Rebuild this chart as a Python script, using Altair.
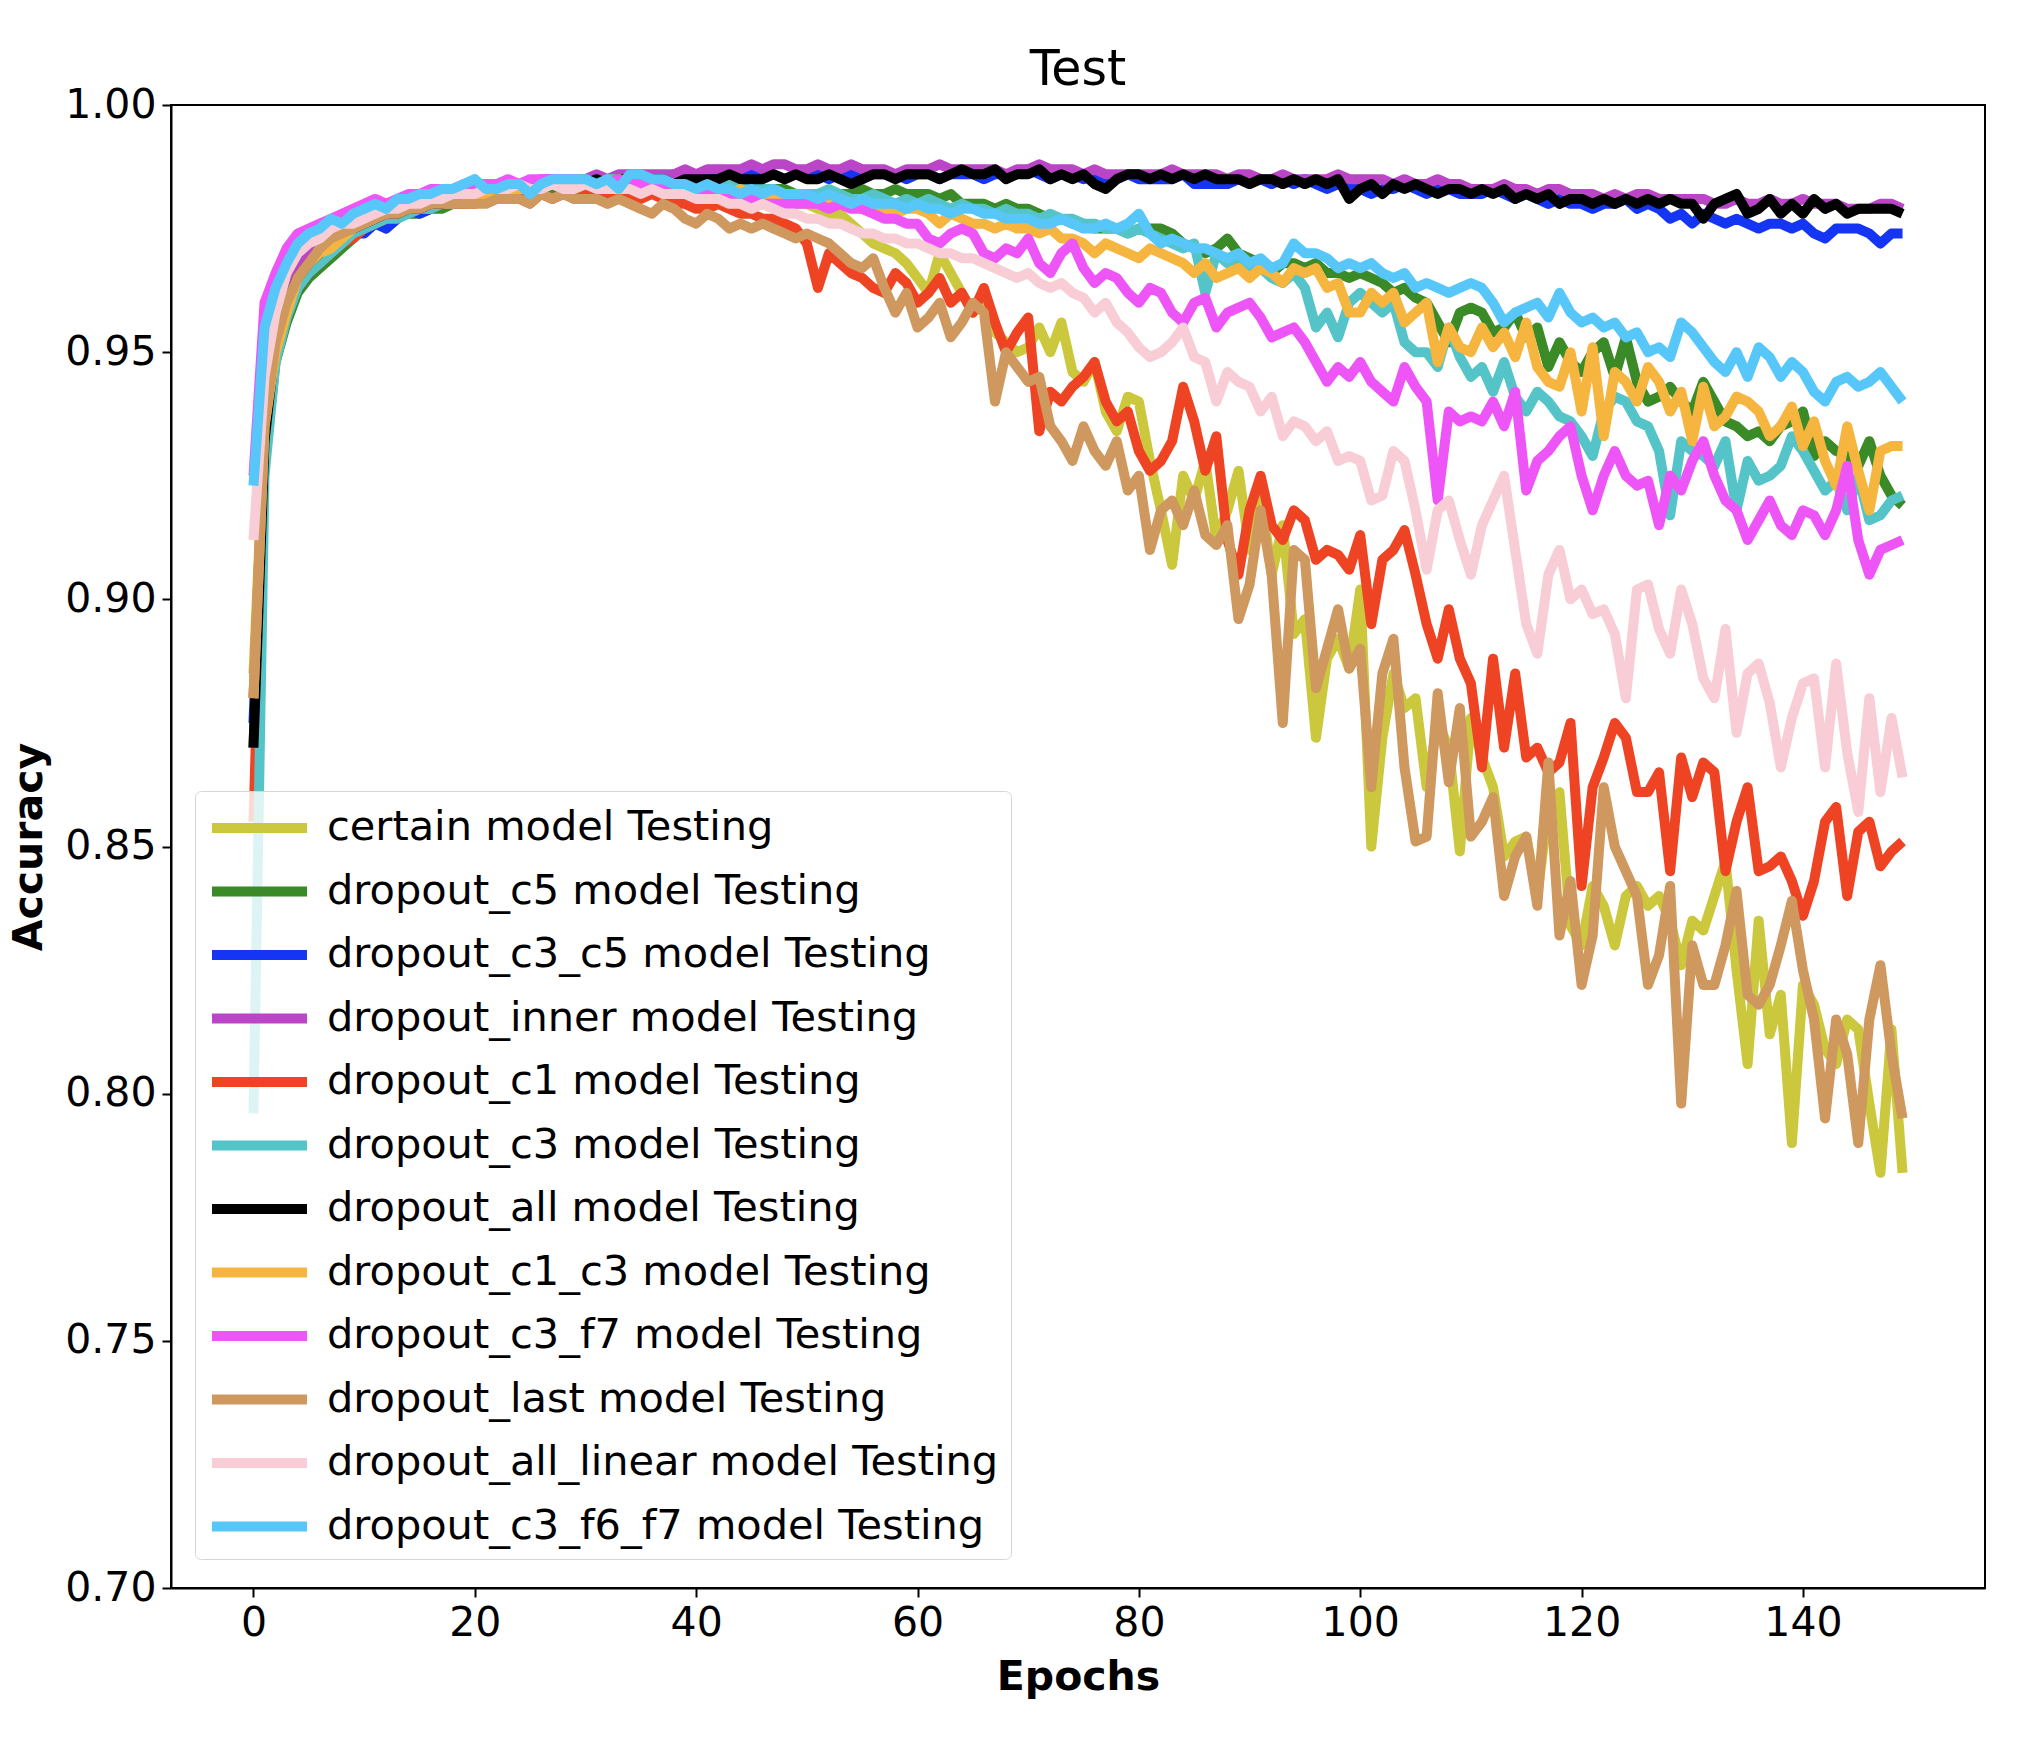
import altair as alt
import pandas as pd

epochs = list(range(150))

names = [
    "certain model Testing",
    "dropout_c5 model Testing",
    "dropout_c3_c5 model Testing",
    "dropout_inner model Testing",
    "dropout_c1 model Testing",
    "dropout_c3 model Testing",
    "dropout_all model Testing",
    "dropout_c1_c3 model Testing",
    "dropout_c3_f7 model Testing",
    "dropout_last model Testing",
    "dropout_all_linear model Testing",
    "dropout_c3_f6_f7 model Testing",
]

colors = [
    "#CCC83E", "#3A8A27", "#1535F5", "#BA45C6", "#EE4424", "#55C4C8",
    "#000000", "#F5B53E", "#EE55F7", "#CF985F", "#F8CDD5", "#57C7F9",
]

# accuracy values in thousandths, one per epoch
certain = [
    885, 935, 952, 960, 966, 969, 971, 973, 975, 976,
    977, 978, 978, 979, 979, 980, 980, 981, 981, 982,
    982, 982, 983, 983, 983, 983, 984, 983, 984, 984,
    984, 984, 984, 985, 984, 985, 984, 984, 984, 983,
    983, 983, 983, 982, 983, 982, 982, 981, 981, 980,
    980, 979, 978, 978, 976, 974, 972, 971, 970, 968,
    965, 962, 970, 966, 962, 958, 960, 954, 952, 950,
    951, 955, 950, 956, 946, 944, 948, 938, 934, 941,
    940, 928, 918, 907, 925, 920, 928, 912, 918, 926,
    910, 922, 905, 915, 893, 896, 872, 888, 892, 886,
    902, 850, 872, 885, 878, 880, 862, 875, 870, 849,
    876, 868, 862, 848, 851, 852, 840, 858, 861, 834,
    830, 842, 838, 830, 840, 842, 838, 840, 835, 826,
    835, 833, 840, 847, 825, 806, 835, 812, 820, 790,
    822, 818, 809, 806, 815, 813, 798, 784, 813, 784,
]
dropout_c5 = [
    870, 928, 948, 956, 962, 965, 967, 969, 971, 973,
    975, 976, 977, 978, 978, 978, 979, 979, 980, 980,
    981, 981, 982, 982, 982, 983, 983, 983, 983, 984,
    984, 984, 984, 984, 985, 984, 984, 984, 984, 984,
    984, 984, 984, 983, 983, 983, 983, 983, 983, 982,
    982, 982, 982, 982, 982, 983, 982, 982, 983, 982,
    982, 982, 981, 982, 980, 980, 980, 979, 980, 979,
    979, 978, 977, 977, 976, 976, 975, 975, 975, 974,
    975, 975, 975, 974, 972, 971, 970, 971, 973, 970,
    969, 968, 966, 968, 968, 967, 968, 966, 966, 965,
    966, 965, 964, 962, 963, 961, 960, 956, 952, 958,
    959, 958, 954, 955, 958, 953, 955, 947, 952, 948,
    946, 950, 952, 945, 953, 944, 940, 941, 943, 940,
    938, 944, 940, 936, 935, 933, 934, 932, 935, 936,
    938, 929, 932, 930, 929, 927, 932, 925, 921, 919,
]
dropout_c3_c5 = [
    875, 930, 950, 958, 963, 966, 968, 970, 972, 974,
    974, 976, 975, 977, 979, 978, 979, 980, 980, 981,
    981, 982, 982, 983, 983, 984, 984, 984, 984, 985,
    985, 985, 985, 985, 986, 985, 985, 985, 986, 985,
    986, 985, 986, 985, 986, 986, 986, 986, 985, 986,
    986, 986, 985, 986, 986, 985, 986, 986, 986, 985,
    986, 986, 985, 986, 986, 986, 985, 986, 986, 986,
    987, 986, 985, 986, 986, 985, 986, 985, 985, 986,
    985, 985, 985, 985, 986, 984, 984, 984, 984, 985,
    985, 985, 984, 985, 984, 985, 984, 983, 984, 983,
    983, 982, 983, 983, 984, 983, 982, 983, 983, 982,
    982, 982, 983, 982, 981, 982, 981, 980, 981, 980,
    980, 979, 980, 980, 981, 979, 980, 979, 977, 978,
    976, 978, 977, 976, 977, 976, 975, 976, 976, 975,
    976, 974, 973, 975, 975, 975, 974, 972, 974, 974,
]
dropout_inner = [
    880, 935, 955, 962, 967, 970, 972, 973, 975, 976,
    977, 978, 979, 979, 980, 980, 981, 981, 982, 982,
    982, 983, 983, 984, 984, 984, 985, 985, 985, 985,
    985, 986, 985, 986, 986, 986, 986, 986, 986, 987,
    986, 987, 987, 987, 987, 988, 987, 988, 988, 987,
    987, 988, 987, 987, 988, 987, 987, 987, 986, 987,
    987, 987, 988, 987, 987, 987, 987, 987, 986, 987,
    987, 988, 987, 987, 987, 986, 987, 986, 986, 986,
    986, 986, 986, 987, 986, 986, 986, 986, 985, 986,
    986, 985, 985, 986, 985, 985, 985, 985, 986, 985,
    985, 985, 985, 984, 985, 984, 984, 985, 984, 984,
    983, 983, 983, 984, 983, 983, 982, 983, 983, 982,
    982, 982, 981, 982, 981, 982, 982, 981, 981, 981,
    981, 981, 980, 980, 981, 980, 980, 981, 980, 980,
    981, 980, 980, 980, 979, 979, 979, 980, 980, 979,
]
dropout_c1 = [
    855, 930, 950, 958, 963, 966, 968, 970, 972, 973,
    975, 976, 977, 978, 978, 979, 979, 980, 980, 980,
    980, 981, 981, 982, 981, 982, 982, 981, 982, 981,
    982, 982, 981, 982, 981, 981, 982, 981, 980, 980,
    979, 979, 980, 979, 978, 978, 977, 977, 976, 975,
    972, 963, 970, 968, 966, 965, 963, 962, 966, 964,
    960, 962, 965, 960, 962, 958, 963, 956, 950, 954,
    957, 934, 942, 940, 943, 945, 948, 940, 936, 938,
    930, 926, 928, 932, 943, 936, 926, 933, 912, 905,
    918, 925, 915, 912, 918, 916, 908, 910, 909, 906,
    913, 895, 908, 910, 914, 905, 895, 888, 898, 888,
    883, 866, 888, 870, 885, 868, 870, 865, 867, 875,
    842, 862, 868, 875, 872, 861, 861, 865, 845, 868,
    860, 867, 865, 845, 855, 862, 845, 846, 848, 843,
    836, 843, 855, 858, 840, 853, 855, 846, 849, 851,
]
dropout_c3 = [
    796, 925, 948, 957, 963, 966, 968, 970, 972, 974,
    975, 976, 977, 977, 978, 979, 979, 980, 980, 981,
    981, 982, 982, 983, 983, 983, 984, 984, 984, 985,
    985, 984, 985, 985, 985, 984, 985, 984, 984, 984,
    984, 984, 983, 984, 983, 983, 983, 983, 982, 982,
    982, 982, 983, 982, 981, 981, 982, 981, 980, 981,
    980, 981, 980, 979, 980, 979, 979, 978, 979, 978,
    978, 977, 978, 977, 977, 976, 976, 975, 975, 974,
    975, 974, 973, 972, 971, 972, 962, 970, 968, 969,
    966, 967, 965, 964, 966, 963, 955, 958, 953, 960,
    962, 960, 958, 960, 952, 950, 950, 947, 955, 949,
    945, 947, 942, 948, 941, 938, 942, 940, 937, 936,
    933, 929, 938, 941, 940, 936, 935, 930, 917, 932,
    930, 929, 927, 932, 918, 928, 924, 925, 927, 933,
    930, 926, 922, 924, 918, 925, 916, 917, 920, 921,
]
dropout_all = [
    870, 932, 952, 960, 965, 968, 970, 972, 974, 975,
    976, 977, 978, 978, 979, 979, 980, 980, 981, 981,
    981, 982, 982, 983, 983, 983, 983, 984, 984, 984,
    984, 985, 984, 985, 985, 985, 985, 985, 984, 985,
    985, 985, 985, 986, 985, 985, 985, 986, 985, 986,
    985, 985, 986, 985, 984, 985, 986, 986, 985, 986,
    986, 986, 985, 986, 987, 986, 986, 987, 985, 986,
    986, 987, 985, 986, 985, 986, 984, 983, 985, 986,
    986, 985, 986, 985, 986, 985, 986, 985, 985, 985,
    984, 985, 985, 984, 985, 984, 985, 984, 985, 981,
    983, 984, 982, 984, 983, 984, 983, 982, 983, 983,
    982, 983, 982, 983, 981, 982, 981, 982, 980, 981,
    981, 980, 981, 980, 981, 980, 981, 980, 981, 980,
    980, 977, 980, 981, 982, 978, 979, 981, 978, 980,
    978, 981, 979, 980, 978, 979, 979, 979, 979, 978,
]
dropout_c1_c3 = [
    880, 935, 950, 958, 965, 968, 970, 971, 973, 975,
    977, 978, 978, 979, 979, 980, 980, 981, 981, 982,
    982, 982, 983, 983, 983, 983, 983, 984, 984, 984,
    984, 984, 984, 985, 984, 984, 984, 984, 983, 983,
    983, 983, 982, 982, 983, 982, 982, 981, 982, 981,
    981, 981, 980, 981, 980, 979, 980, 979, 978, 979,
    979, 978, 976, 978, 977, 976, 976, 975, 976, 975,
    975, 974, 975, 973, 973, 972, 970, 972, 971, 970,
    969, 971, 970, 969, 968, 966, 968, 965, 966, 967,
    965, 967, 966, 964, 967, 966, 967, 963, 964, 958,
    958, 962, 960, 962, 956, 958, 960, 948, 955, 951,
    950, 955, 951, 954, 949, 956, 947, 944, 943, 950,
    938, 951, 933, 946, 944, 940, 947, 944, 938, 942,
    932, 943, 935, 937, 941, 940, 938, 933, 935, 939,
    931, 936, 928, 923, 935, 926, 918, 930, 931, 931,
]
dropout_c3_f7 = [
    925, 960, 966, 971, 974, 975, 976, 977, 978, 979,
    980, 981, 980, 981, 982, 982, 983, 983, 983, 984,
    984, 984, 984, 985, 984, 985, 985, 985, 985, 985,
    984, 984, 984, 985, 984, 984, 984, 983, 983, 983,
    982, 982, 982, 981, 981, 981, 980, 980, 980, 980,
    980, 980, 979, 980, 979, 979, 978, 977, 977, 976,
    976, 973, 972, 974, 975, 974, 970, 969, 971, 970,
    973, 968, 966, 970, 972, 967, 964, 966, 965, 962,
    960, 963, 962, 958, 956, 960, 961, 955, 958, 959,
    960, 957, 953, 954, 955, 952, 948, 944, 947, 945,
    948, 944, 942, 940, 947, 943, 940, 920, 938, 936,
    937, 936, 940, 935, 942, 922, 928, 930, 933, 935,
    925, 918, 925, 930, 925, 923, 924, 915, 925, 922,
    928, 932, 925, 920, 918, 912, 916, 920, 915, 913,
    918, 917, 913, 918, 927, 912, 905, 910, 911, 912,
]
dropout_last = [
    880, 935, 952, 960, 965, 968, 971, 973, 974, 975,
    976, 977, 978, 978, 979, 979, 980, 980, 980, 980,
    980, 980, 981, 981, 981, 980, 982, 981, 982, 981,
    981, 981, 980, 981, 980, 979, 978, 980, 979, 977,
    976, 978, 977, 975, 976, 975, 976, 975, 974, 973,
    974, 973, 972, 970, 968, 967, 969, 963, 958, 962,
    955, 957, 960, 953, 956, 960, 958, 940, 950, 947,
    944, 945, 935, 932, 928, 935, 930, 927, 932, 922,
    925, 910, 918, 920, 915, 922, 913, 911, 915, 896,
    903, 918, 905, 875, 910, 908, 882, 890, 898, 886,
    890, 862, 885, 892, 866, 851, 852, 881, 863, 878,
    852, 855, 860, 840, 848, 852, 838, 867, 832, 843,
    822, 832, 862, 850, 845, 840, 822, 828, 842, 798,
    830, 822, 822, 830, 841, 820, 818, 822, 830, 839,
    825, 815, 795, 815, 808, 790, 815, 826, 808, 795,
]
dropout_all_linear = [
    912, 945, 958, 966, 970, 972, 973, 975, 976, 976,
    977, 978, 979, 979, 980, 980, 981, 981, 982, 982,
    982, 983, 983, 983, 984, 983, 983, 984, 983, 983,
    984, 983, 983, 983, 983, 982, 983, 982, 982, 982,
    981, 981, 981, 980, 980, 979, 980, 979, 978, 978,
    977, 977, 976, 976, 975, 974, 974, 973, 973, 972,
    972, 971, 970, 970, 969, 969, 968, 967, 966, 965,
    966, 964, 963, 964, 962, 961, 958, 960, 956, 954,
    951, 949, 950, 952, 955, 949, 948, 940, 946, 944,
    943, 938, 941, 933, 936, 935, 932, 934, 928, 929,
    928, 920, 921, 930, 928, 918, 906, 918, 920, 912,
    905, 915, 920, 925, 910, 895, 889, 905, 910, 900,
    902, 897, 898, 893, 880, 902, 903, 894, 889, 902,
    895, 884, 880, 894, 873, 885, 887, 879, 866, 876,
    883, 884, 866, 887, 869, 857, 880, 861, 876, 864,
]
dropout_c3_f6_f7 = [
    923, 955, 963, 968, 972, 974, 975, 977, 976, 978,
    979, 980, 979, 981, 981, 982, 982, 983, 983, 984,
    985, 983, 983, 984, 984, 982, 984, 985, 985, 985,
    985, 984, 985, 983, 986, 986, 985, 985, 984, 984,
    983, 984, 983, 983, 982, 983, 982, 983, 982, 982,
    982, 981, 982, 981, 980, 981, 980, 980, 980, 979,
    980, 979, 979, 978, 979, 979, 978, 978, 977, 977,
    977, 976, 976, 977, 976, 975, 975, 976, 975, 976,
    978, 974, 972, 973, 972, 971, 971, 970, 969, 970,
    968, 969, 967, 968, 972, 970, 970, 969, 967, 968,
    967, 968, 966, 965, 966, 963, 964, 963, 962, 963,
    964, 963, 960, 956, 958, 959, 960, 957, 962, 958,
    956, 957, 955, 956, 953, 954, 950, 951, 949, 956,
    954, 951, 948, 946, 950, 945, 951, 949, 945, 948,
    946, 942, 940, 944, 945, 943, 944, 946, 943, 940,
]

all_series = [
    certain, dropout_c5, dropout_c3_c5, dropout_inner, dropout_c1, dropout_c3,
    dropout_all, dropout_c1_c3, dropout_c3_f7, dropout_last,
    dropout_all_linear, dropout_c3_f6_f7,
]
for nm, s in zip(names, all_series):
    assert len(s) == len(epochs), (nm, len(s))

x_ticks = [0, 20, 40, 60, 80, 100, 120, 140]
y_ticks = [0.70, 0.75, 0.80, 0.85, 0.90, 0.95, 1.00]

FONT = "DejaVu Sans"

color_scale = alt.Scale(domain=names, range=colors)
x_scale = alt.Scale(domain=[-7.45, 156.45], nice=False, zero=False)
y_scale = alt.Scale(domain=[0.70, 1.00], nice=False, zero=False)

legend = alt.Legend(
    title=None,
    orient="none",
    legendX=24,
    legendY=686,
    symbolType="M-1,0H3.75",
    symbolSize=1600,
    symbolStrokeWidth=10,
    symbolOpacity=1,
    labelFontSize=41.5,
    labelFont=FONT,
    labelColor="black",
    labelLimit=2000,
    labelOffset=70,
    labelExpr="datum.label + '\u2002'",
    rowPadding=17.5,
    padding=12,
    fillColor="rgba(255,255,255,0.8)",
    strokeColor="#d6d6d6",
    cornerRadius=6,
)

layers = []
for nm, s in zip(names, all_series):
    df = pd.DataFrame({
        "epoch": epochs,
        "acc": [v / 1000 for v in s],
        "series": nm,
    })
    layers.append(
        alt.Chart(df)
        .mark_line(strokeWidth=10, clip=True, strokeJoin="round")
        .encode(
            x=alt.X("epoch:Q", scale=x_scale,
                    axis=alt.Axis(values=x_ticks, title="Epochs")),
            y=alt.Y("acc:Q", scale=y_scale,
                    axis=alt.Axis(values=y_ticks, format=".2f", title="Accuracy")),
            color=alt.Color("series:N", scale=color_scale, legend=legend),
        )
    )

chart = (
    alt.layer(*layers)
    .properties(
        width=1814,
        height=1483,
        title=alt.TitleParams("Test", fontSize=49, font=FONT, fontWeight="normal",
                              color="black", offset=8, dy=19, frame="group",
                              anchor="middle"),
        autosize=alt.AutoSizeParams(type="none"),
        padding={"left": 163, "top": 97, "right": 51, "bottom": 154},
        background="white",
    )
    .configure_view(stroke="black", strokeWidth=2)
    .configure_axis(
        grid=False,
        domainColor="black",
        domainWidth=2,
        tickColor="black",
        tickWidth=2,
        tickSize=9,
        labelFont=FONT,
        labelFontSize=41,
        labelColor="black",
        labelPadding=6,
        titleFont=FONT,
        titleFontSize=41,
        titleFontWeight="bold",
        titleColor="black",
        titlePadding=14,
    )
)

chart.save("out.html", embed_options={"renderer": "svg", "actions": False})
